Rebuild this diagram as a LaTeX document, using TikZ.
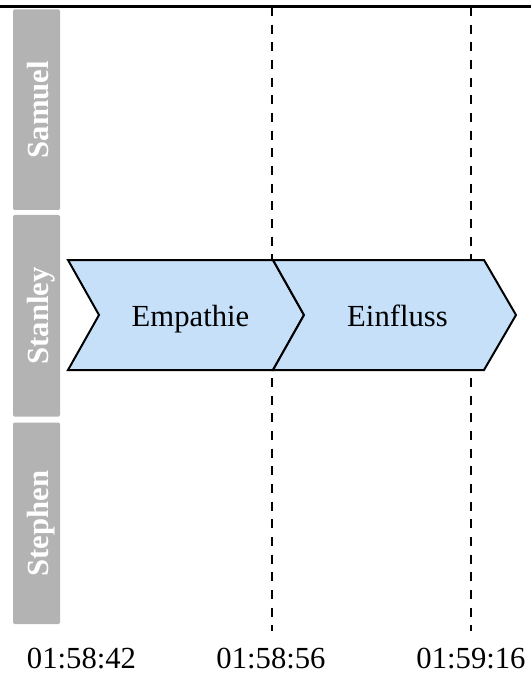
\documentclass[tikz,border=0pt]{standalone}
\usepackage{fontspec}
\setmainfont{Liberation Serif}
\definecolor{lanegray}{RGB}{179,179,179}
\definecolor{phaseblue}{RGB}{198,224,250}
\begin{document}
\begin{tikzpicture}[x=0.75pt,y=-0.75pt,
  lanebar/.style={fill=lanegray,draw=none,rounded corners=1pt},
  lanename/.style={text=white,font=\fontsize{23}{27}\selectfont\bfseries,rotate=90,anchor=base,inner sep=0pt},
  phase/.style={fill=phaseblue,draw=black,line width=1.5pt,line join=miter},
  phaselabel/.style={font=\fontsize{23}{27}\selectfont,anchor=base,inner sep=0pt},
  timelabel/.style={font=\fontsize{23}{27}\selectfont,anchor=base,inner sep=0pt},
  marker/.style={draw=black,line width=1.9pt,dash pattern=on 6.75pt off 6.5pt},
  rule/.style={draw=black,line width=2.25pt},
]
\useasboundingbox[fill=white] (0,0) rectangle (531,673);

% swimlane headers
\fill[lanebar] (13,9.5) rectangle (60,210);
\fill[lanebar] (13,215) rectangle (60,416.5);
\fill[lanebar] (13,422.5) rectangle (60,624);
\node[lanename] (samuel)  at (48,109.5) {Samuel};
\node[lanename] (stanley) at (48,316)   {Stanley};
\node[lanename] (stephen) at (48,523.5) {Stephen};

% time markers
\coordinate (m1top) at (272,7);
\coordinate (m1bot) at (272,631);
\coordinate (m2top) at (471,7);
\coordinate (m2bot) at (471,631);
\draw[marker] (m1top) -- (m1bot);
\draw[marker] (m2top) -- (m2bot);

% phases
\draw[phase] (68,260) -- (273,260) -- (304,315) -- (273,370) -- (68,370) -- (99,315) -- cycle;
\draw[phase] (273,260) -- (484,260) -- (516,315) -- (484,370) -- (273,370) -- (304,315) -- cycle;
\node[phaselabel] (empathie) at (190.5,326.5) {Empathie};
\node[phaselabel] (einfluss) at (397.5,326.5) {Einfluss};

% time axis labels
\node[timelabel] (t1) at (81.5,668) {01:58:42};
\node[timelabel] (t2) at (271,668)  {01:58:56};
\node[timelabel] (t3) at (471,668)  {01:59:16};

% top rule
\coordinate (ruleL) at (0,6.5);
\coordinate (ruleR) at (531,6.5);
\draw[rule] (ruleL) -- (ruleR);
\end{tikzpicture}
\end{document}
